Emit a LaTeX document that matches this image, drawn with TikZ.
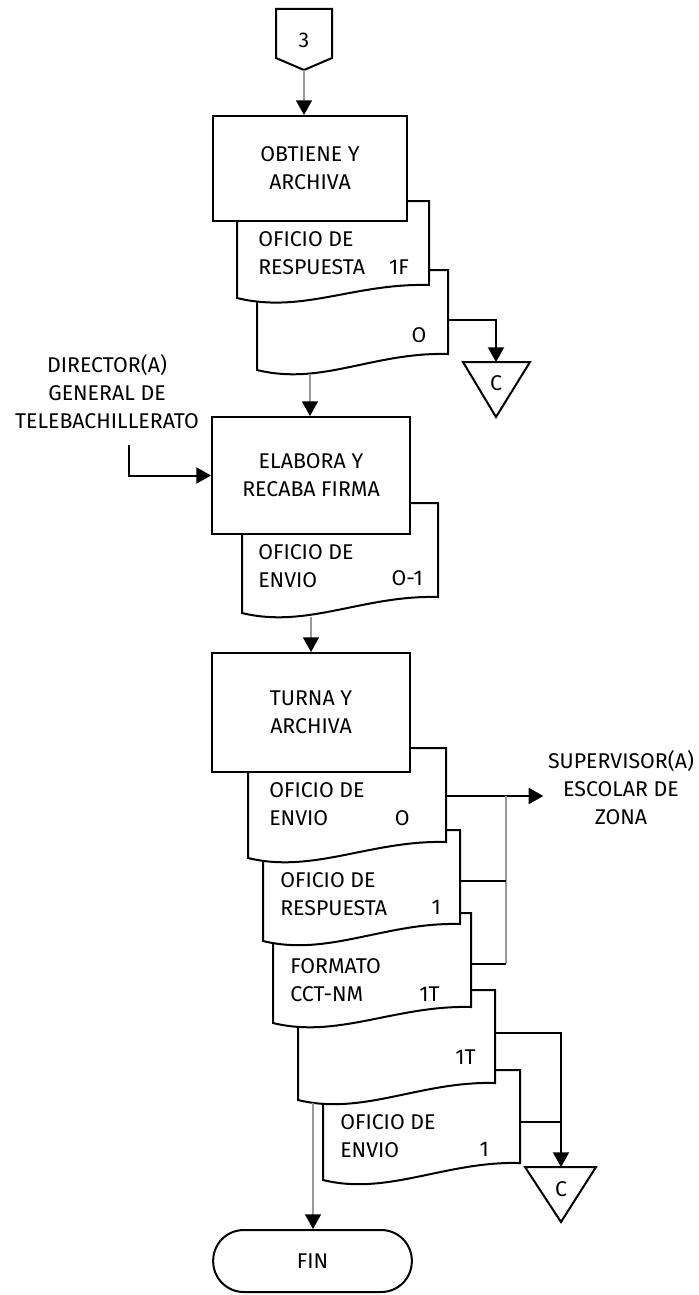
\documentclass[tikz,border=0pt]{standalone}
\usepackage{fontspec}
\setmainfont{Fira Sans}
\usetikzlibrary{arrows.meta}

\begin{document}
\begin{tikzpicture}[x=0.75pt,y=-0.75pt,font=\fontsize{16}{21}\selectfont,
	line/.style={line width=1.5pt},
	docu/.style={line width=1.5pt,fill=white},
	flow/.style={line width=1pt,gray!80,-{Triangle[width=12pt,length=11pt,color=black]}},
	arrow/.style={line width=1.5pt,-{Triangle[width=12pt,length=11pt]}},
	wire/.style={line width=1pt,gray!80}]
	\useasboundingbox (0,0) rectangle (699,1295);

	\draw [line] (276,9) -- (332,9) -- (332,58) -- (304,70) -- (276,58) -- cycle;
	\node (three) at (304,40) {3};
	\coordinate (p3) at (304,70);

	\draw [docu] (257,270) -- (448,270) -- (448,354) .. controls (373,352) and (322,386) .. (257,370) -- cycle;
	\node [anchor=east] (codeB) at (431,335) {O};
	\draw [docu] (237,201) -- (429,201) -- (429,285) .. controls (354,283) and (302,314) .. (237,298) -- cycle;
	\node [anchor=west,align=left,inner sep=0pt] (textA) at (258,253) {OFICIO DE\\RESPUESTA};
	\node [anchor=east,inner sep=0pt] (codeA) at (409,267) {1F};
	\coordinate (bout) at (448,320);
	\coordinate (bbot) at (310,374);

	\draw [docu] (242,503) -- (438,503) -- (438,597) .. controls (363,595) and (307,629) .. (242,613) -- cycle;
	\node [anchor=west,align=left,inner sep=0pt] (textC) at (258,566) {OFICIO DE\\ENVIO};
	\node [anchor=east,inner sep=0pt] (codeC) at (423,578) {O-1};
	\coordinate (cbot) at (311,617);

	\draw [docu] (323,1070) -- (520,1070) -- (520,1163) .. controls (445,1161) and (388,1196) .. (323,1180) -- cycle;
	\node [anchor=west,align=left,inner sep=0pt] (textH) at (340,1136) {OFICIO DE\\ENVIO};
	\node [anchor=east,inner sep=0pt] (codeH) at (489,1149) {1};
	\draw [docu] (298,990) -- (495,990) -- (495,1083) .. controls (420,1081) and (363,1116) .. (298,1100) -- cycle;
	\node [anchor=east,inner sep=0pt] (codeG) at (476,1057) {1T};
	\draw [docu] (273,913) -- (471,913) -- (471,1007) .. controls (396,1005) and (338,1039) .. (273,1023) -- cycle;
	\node [anchor=west,align=left,inner sep=0pt] (textF) at (290,980) {FORMATO\\CCT-NM};
	\node [anchor=east,inner sep=0pt] (codeF) at (440,994) {1T};
	\draw [docu] (263,830) -- (460,830) -- (460,924) .. controls (385,922) and (328,957) .. (263,941) -- cycle;
	\node [anchor=west,align=left,inner sep=0pt] (textE) at (280,894) {OFICIO DE\\RESPUESTA};
	\node [anchor=east,inner sep=0pt] (codeE) at (441,907) {1};
	\draw [docu] (248,748) -- (446,748) -- (446,842) .. controls (371,840) and (313,874) .. (248,858) -- cycle;
	\node [anchor=west,align=left,inner sep=0pt] (textD) at (269,804) {OFICIO DE\\ENVIO};
	\node [anchor=east,inner sep=0pt] (codeD) at (410,818) {O};
	\coordinate (dout) at (446,796);
	\coordinate (eout) at (460,881);
	\coordinate (fout) at (471,964);
	\coordinate (gout) at (495,1033);
	\coordinate (hout) at (520,1122);
	\coordinate (gbot) at (313,1103);
	\coordinate (j1) at (506,796);

	\begin{scope}[every node/.style={draw,line width=1.5pt,fill=white,align=center,inner sep=0pt,minimum width=148.5pt}]
	\node [minimum width=145.5pt,minimum height=78.75pt] (obtiene) at (310,168.5) {OBTIENE Y\\ARCHIVA};
	\node [minimum height=87.75pt] (elabora) at (311,475.5) {ELABORA Y\\RECABA FIRMA};
	\node [minimum height=89.25pt] (turna) at (311,712.5) {TURNA Y\\ARCHIVA};
	\node [minimum width=149pt,minimum height=46.5pt,rounded corners=23pt] (fin) at (312.5,1261) {FIN};
	\end{scope}

	\draw [line] (463,362) -- (530,362) -- (496,417) -- cycle;
	\node (cA) at (496,383) {C};
	\coordinate (cAtop) at (496,362);
	\draw [line] (525,1167) -- (596,1167) -- (561,1222) -- cycle;
	\node (cB) at (561,1189) {C};
	\coordinate (cBtop) at (561,1167);

	\node [align=center] (dir) at (107,392) {DIRECTOR(A)\\GENERAL DE\\TELEBACHILLERATO};
	\node [align=center] (sup) at (621,788) {SUPERVISOR(A)\\ESCOLAR DE\\ZONA};
	\coordinate (dirout) at (129,445);

	\draw [flow] (p3) -- (p3 |- obtiene.north);
	\draw [arrow] (bout) -| (cAtop);
	\draw [flow] (bbot) -- (bbot |- elabora.north);
	\draw [arrow] (dirout) |- (elabora.west);
	\draw [flow] (cbot) -- (cbot |- turna.north);
	\draw [arrow] (dout) -- (dout -| sup.west);
	\draw [wire] (j1) -- (j1 |- fout);
	\draw [line] (eout) -- (eout -| j1);
	\draw [line] (fout) -- (fout -| j1);
	\draw [arrow] (gout) -| (cBtop);
	\draw [line] (hout) -- (hout -| cBtop);
	\draw [flow] (gbot) -- (gbot |- fin.north);
\end{tikzpicture}
\end{document}
